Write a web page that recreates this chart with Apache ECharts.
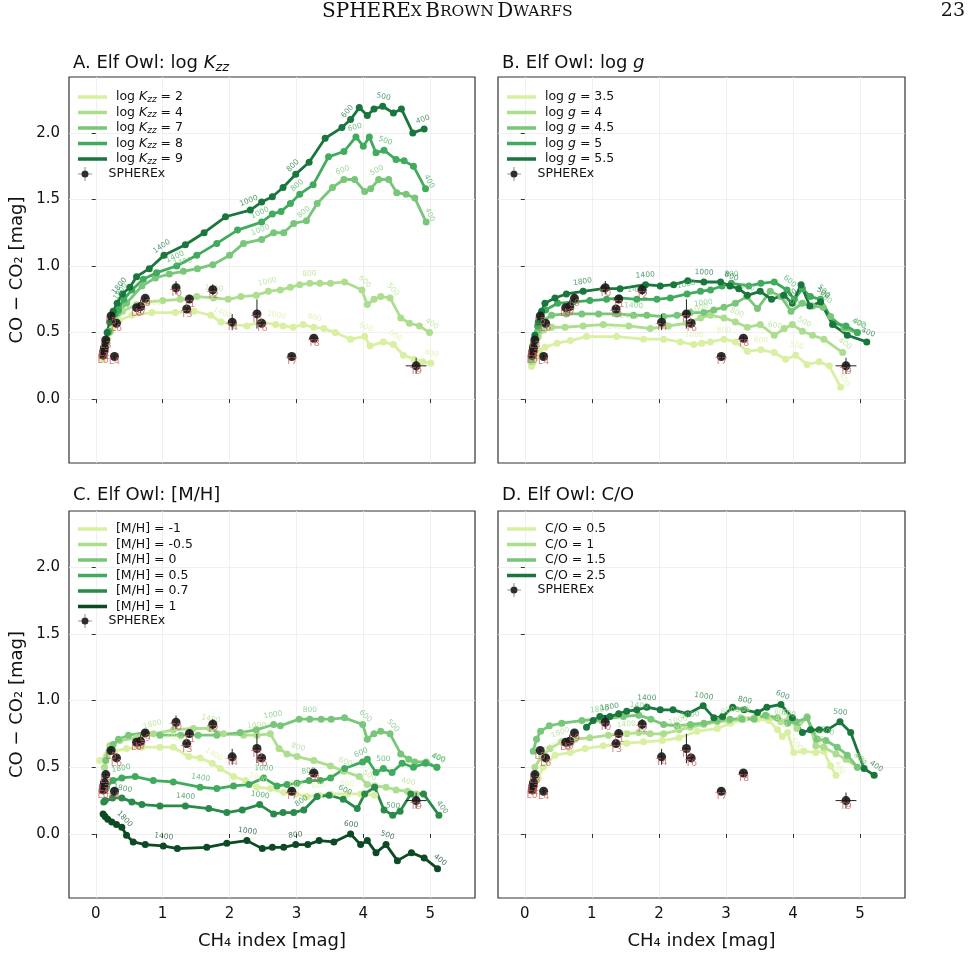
<!DOCTYPE html>
<html>
<head>
<meta charset="utf-8">
<script src="https://cdn.jsdelivr.net/npm/echarts@6/dist/echarts.min.js"></script>
<style>
html, body { margin: 0; padding: 0; background: #fff; }
#main { width: 972px; height: 956px; }
</style>
</head>
<body>
<div id="main"></div>
<script>
// axis extents and ticks (shared by all four panels)
var xMin = -0.4, xMax = 5.67, yMin = -0.48, yMax = 2.42;
var xTicks = [0, 1, 2, 3, 4, 5];
var yTicks = [0, 0.5, 1, 1.5, 2];

// SPHEREx measurements
var spxNames = ['L0','L1','L2','L3','L4','L5','L6','L7','L8','L9','T0','T1','T2','T3','T4','T5','T6','T7','T8','T9'];
var spxX    = [0.11,0.12,0.13,0.15,0.28,0.23,0.31,0.67,0.61,0.74,1.20,1.40,1.75,1.36,2.04,2.41,2.48,2.93,3.26,4.79];
var spxY    = [0.33,0.36,0.385,0.445,0.32,0.625,0.57,0.695,0.687,0.757,0.837,0.752,0.822,0.677,0.578,0.64,0.57,0.32,0.457,0.25];
var spxXerr = [0.02,0.02,0.02,0.02,0.02,0.02,0.02,0.02,0.02,0.02,0.02,0.02,0.02,0.02,0.02,0.02,0.02,0.03,0.07,0.155];
var spxYerr = [0.02,0.02,0.02,0.02,0.02,0.02,0.02,0.05,0.02,0.02,0.05,0.03,0.04,0.02,0.06,0.11,0.02,0.02,0.02,0.06];

// A. log Kzz
var kzzNames = ['log Kzz = 2', 'log Kzz = 4', 'log Kzz = 7', 'log Kzz = 8', 'log Kzz = 9'];
var kzz2 = [[0.10,0.30],[0.13,0.38],[0.18,0.46],[0.25,0.53],[0.35,0.59],[0.54,0.63],[0.84,0.65],[1.19,0.65],[1.47,0.66],[1.72,0.63],[1.87,0.58],[2.06,0.56],[2.26,0.55],[2.46,0.58],[2.69,0.56],[2.80,0.55],[2.95,0.54],[3.10,0.56],[3.26,0.54],[3.41,0.53],[3.58,0.50],[3.81,0.45],[4.02,0.47],[4.10,0.40],[4.30,0.43],[4.45,0.41],[4.60,0.33],[4.76,0.30],[4.89,0.28],[5.01,0.27]];
var kzz4 = [[0.12,0.34],[0.16,0.42],[0.22,0.51],[0.30,0.59],[0.40,0.66],[0.61,0.71],[0.77,0.73],[1.00,0.74],[1.26,0.75],[1.51,0.77],[1.76,0.76],[1.98,0.75],[2.17,0.77],[2.40,0.78],[2.58,0.81],[2.76,0.82],[2.91,0.84],[3.05,0.86],[3.20,0.87],[3.35,0.87],[3.51,0.87],[3.72,0.88],[3.98,0.82],[4.06,0.71],[4.16,0.75],[4.26,0.77],[4.40,0.76],[4.56,0.61],[4.69,0.57],[4.84,0.55],[4.99,0.50]];
var kzz7 = [[0.12,0.34],[0.16,0.43],[0.20,0.50],[0.26,0.58],[0.33,0.65],[0.46,0.72],[0.69,0.85],[0.89,0.91],[1.10,0.94],[1.31,0.96],[1.52,0.98],[1.75,1.01],[2.00,1.08],[2.21,1.17],[2.48,1.20],[2.66,1.25],[2.81,1.25],[2.96,1.32],[3.15,1.34],[3.31,1.47],[3.54,1.59],[3.71,1.65],[3.87,1.65],[4.02,1.56],[4.11,1.58],[4.23,1.65],[4.38,1.65],[4.50,1.55],[4.64,1.54],[4.77,1.51],[4.94,1.33]];
var kzz8 = [[0.12,0.35],[0.15,0.43],[0.19,0.51],[0.24,0.59],[0.29,0.64],[0.34,0.67],[0.42,0.75],[0.54,0.82],[0.71,0.90],[0.91,0.95],[1.21,1.00],[1.51,1.08],[1.81,1.17],[2.12,1.27],[2.48,1.33],[2.64,1.39],[2.77,1.41],[2.91,1.47],[3.05,1.54],[3.25,1.61],[3.48,1.82],[3.71,1.86],[3.89,1.97],[4.00,1.90],[4.09,1.97],[4.19,1.85],[4.31,1.87],[4.49,1.80],[4.61,1.79],[4.75,1.75],[4.93,1.58]];
var kzz9 = [[0.12,0.35],[0.14,0.42],[0.17,0.50],[0.21,0.58],[0.26,0.66],[0.32,0.72],[0.40,0.79],[0.51,0.84],[0.61,0.92],[0.80,0.98],[1.02,1.08],[1.34,1.16],[1.62,1.25],[1.94,1.37],[2.31,1.42],[2.48,1.48],[2.64,1.52],[2.80,1.59],[2.99,1.69],[3.19,1.78],[3.43,1.96],[3.68,2.04],[3.81,2.10],[3.94,2.19],[4.06,2.13],[4.16,2.18],[4.29,2.20],[4.45,2.15],[4.57,2.18],[4.74,2.00],[4.91,2.03]];
var kzzTemps = [
    [[6,'1800'],[10,'1400'],[14,'1000'],[18,'800'],[22,'600'],[25,'500'],[29,'400']],
    [[10,'1400'],[14,'1000'],[18,'800'],[22,'600'],[26,'500'],[30,'400']],
    [[9,'1400'],[14,'1000'],[18,'800'],[21,'600'],[25,'500'],[30,'400']],
    [[6,'1800'],[10,'1400'],[14,'1000'],[18,'800'],[22,'600'],[26,'500'],[30,'400']],
    [[6,'1800'],[10,'1400'],[14,'1000'],[18,'800'],[22,'600'],[26,'500'],[30,'400']]
];

// B. log g
var gNames = ['log g = 3.5', 'log g = 4', 'log g = 4.5', 'log g = 5', 'log g = 5.5'];
var g35 = [[0.10,0.245],[0.12,0.27],[0.16,0.31],[0.22,0.36],[0.30,0.39],[0.48,0.42],[0.68,0.44],[0.92,0.47],[1.37,0.47],[1.77,0.45],[2.07,0.45],[2.32,0.43],[2.52,0.41],[2.64,0.42],[2.77,0.43],[2.97,0.45],[3.14,0.43],[3.32,0.36],[3.52,0.37],[3.72,0.35],[3.89,0.30],[4.04,0.33],[4.21,0.26],[4.39,0.28],[4.54,0.25],[4.71,0.09]];
var g4 = [[0.10,0.28],[0.12,0.33],[0.15,0.40],[0.20,0.47],[0.28,0.52],[0.40,0.54],[0.60,0.54],[0.87,0.55],[1.17,0.56],[1.55,0.55],[1.87,0.53],[2.14,0.55],[2.42,0.57],[2.62,0.61],[2.77,0.63],[2.97,0.61],[3.14,0.58],[3.32,0.54],[3.51,0.56],[3.72,0.48],[3.87,0.53],[3.99,0.56],[4.14,0.51],[4.29,0.48],[4.46,0.45],[4.74,0.35]];
var g45 = [[0.10,0.30],[0.12,0.36],[0.15,0.43],[0.20,0.52],[0.27,0.59],[0.40,0.63],[0.62,0.64],[0.85,0.64],[1.10,0.64],[1.37,0.64],[1.62,0.63],[1.82,0.63],[2.07,0.62],[2.27,0.63],[2.47,0.65],[2.67,0.65],[2.82,0.67],[2.97,0.69],[3.14,0.72],[3.31,0.77],[3.47,0.68],[3.66,0.81],[3.82,0.77],[3.97,0.66],[4.14,0.72],[4.29,0.70],[4.45,0.69],[4.56,0.62],[4.76,0.53],[4.96,0.50]];
var g5 = [[0.10,0.32],[0.12,0.38],[0.15,0.46],[0.19,0.55],[0.24,0.62],[0.31,0.67],[0.49,0.72],[0.72,0.73],[0.97,0.74],[1.22,0.75],[1.41,0.76],[1.67,0.75],[1.97,0.75],[2.17,0.76],[2.42,0.79],[2.62,0.81],[2.77,0.82],[2.94,0.85],[3.08,0.87],[3.34,0.85],[3.52,0.87],[3.72,0.88],[3.91,0.82],[4.02,0.75],[4.14,0.83],[4.26,0.77],[4.41,0.75],[4.61,0.57],[4.79,0.55],[4.96,0.50]];
var g55 = [[0.10,0.33],[0.12,0.40],[0.15,0.48],[0.20,0.58],[0.25,0.66],[0.30,0.72],[0.45,0.76],[0.62,0.79],[0.87,0.81],[1.17,0.83],[1.42,0.83],[1.80,0.86],[2.02,0.85],[2.22,0.86],[2.43,0.89],[2.67,0.88],[2.92,0.88],[3.06,0.85],[3.19,0.83],[3.32,0.78],[3.51,0.81],[3.68,0.75],[3.86,0.78],[3.99,0.72],[4.12,0.86],[4.25,0.70],[4.41,0.73],[4.59,0.56],[4.81,0.48],[5.10,0.43]];
var gTemps = [
    [[8,'1400'],[12,'1000'],[15,'800'],[18,'600'],[21,'500'],[25,'400']],
    [[9,'1400'],[13,'1000'],[16,'800'],[19,'600'],[22,'500'],[25,'400']],
    [[10,'1400'],[15,'1000'],[19,'800'],[23,'600'],[26,'500'],[29,'400']],
    [[11,'1400'],[14,'1000'],[18,'800'],[22,'600'],[26,'500'],[29,'400']],
    [[8,'1800'],[11,'1400'],[15,'1000'],[17,'800'],[23,'600'],[26,'500'],[29,'400']]
];

// C. [M/H]
var mhNames = ['[M/H] = -1', '[M/H] = -0.5', '[M/H] = 0', '[M/H] = 0.5', '[M/H] = 0.7', '[M/H] = 1'];
var mhm1 = [[0.06,0.55],[0.16,0.59],[0.28,0.62],[0.46,0.64],[0.69,0.65],[0.96,0.65],[1.16,0.65],[1.39,0.58],[1.56,0.57],[1.74,0.53],[1.86,0.49],[2.06,0.43],[2.24,0.40],[2.41,0.35],[2.61,0.34],[2.81,0.31],[2.99,0.30],[3.16,0.28],[3.34,0.29],[3.51,0.30],[3.76,0.30],[3.96,0.30],[4.17,0.29]];
var mhm05 = [[0.13,0.50],[0.17,0.58],[0.21,0.66],[0.36,0.70],[0.61,0.72],[0.86,0.75],[1.16,0.78],[1.46,0.79],[1.71,0.79],[1.91,0.75],[2.21,0.74],[2.41,0.74],[2.61,0.75],[2.74,0.64],[2.86,0.60],[3.01,0.58],[3.26,0.55],[3.51,0.51],[3.71,0.47],[3.94,0.43],[4.06,0.37],[4.17,0.36],[4.34,0.35],[4.49,0.33],[4.66,0.32],[4.79,0.30]];
var mh0 = [[0.15,0.55],[0.20,0.62],[0.26,0.67],[0.34,0.71],[0.49,0.74],[0.74,0.76],[0.96,0.74],[1.27,0.74],[1.53,0.74],[1.81,0.74],[2.16,0.76],[2.40,0.78],[2.66,0.82],[2.76,0.81],[3.04,0.86],[3.20,0.86],[3.37,0.86],[3.52,0.86],[3.72,0.87],[3.99,0.82],[4.06,0.71],[4.16,0.75],[4.26,0.77],[4.40,0.75],[4.56,0.60],[4.68,0.56],[4.77,0.54],[4.94,0.54],[5.10,0.50]];
var mh05 = [[0.14,0.33],[0.16,0.35],[0.26,0.40],[0.39,0.42],[0.59,0.43],[0.86,0.40],[1.16,0.39],[1.56,0.35],[1.81,0.34],[2.06,0.36],[2.29,0.37],[2.51,0.42],[2.71,0.36],[2.86,0.37],[3.01,0.38],[3.19,0.40],[3.36,0.40],[3.51,0.42],[3.72,0.49],[3.99,0.54],[4.06,0.56],[4.19,0.46],[4.30,0.49],[4.43,0.46],[4.58,0.53],[4.75,0.50],[4.93,0.53],[5.10,0.50]];
var mh07 = [[0.12,0.24],[0.14,0.25],[0.25,0.27],[0.39,0.27],[0.54,0.24],[0.69,0.22],[0.96,0.21],[1.34,0.21],[1.69,0.19],[1.96,0.16],[2.19,0.18],[2.45,0.22],[2.66,0.15],[2.80,0.16],[2.96,0.16],[3.11,0.18],[3.31,0.28],[3.49,0.29],[3.70,0.26],[3.91,0.19],[4.02,0.30],[4.17,0.35],[4.31,0.18],[4.44,0.14],[4.55,0.17],[4.71,0.30],[4.90,0.30],[5.13,0.14]];
var mh1 = [[0.11,0.15],[0.14,0.13],[0.18,0.11],[0.24,0.09],[0.31,0.07],[0.39,0.05],[0.46,-0.01],[0.56,-0.06],[0.74,-0.08],[1.01,-0.09],[1.22,-0.11],[1.66,-0.10],[1.96,-0.07],[2.26,-0.05],[2.49,-0.11],[2.64,-0.10],[2.81,-0.10],[2.99,-0.08],[3.17,-0.08],[3.34,-0.05],[3.56,-0.06],[3.81,0.00],[3.96,-0.08],[4.06,-0.05],[4.19,-0.14],[4.34,-0.08],[4.51,-0.20],[4.72,-0.14],[4.91,-0.18],[5.11,-0.26]];
var mhTemps = [
    [[6,'1800'],[9,'1400'],[13,'1000'],[16,'800'],[18,'600'],[20,'500']],
    [[5,'1800'],[8,'1400'],[11,'1000'],[15,'800'],[18,'600'],[20,'500'],[24,'400']],
    [[12,'1000'],[15,'800'],[19,'600'],[23,'500'],[28,'400']],
    [[3,'1800'],[7,'1400'],[11,'1000'],[15,'800'],[19,'600'],[22,'500'],[27,'400']],
    [[3,'1800'],[7,'1400'],[11,'1000'],[15,'800'],[18,'600'],[23,'500'],[27,'400']],
    [[5,'1800'],[9,'1400'],[13,'1000'],[17,'800'],[21,'600'],[25,'500'],[29,'400']]
];

// D. C/O
var coNames = ['C/O = 0.5', 'C/O = 1', 'C/O = 1.5', 'C/O = 2.5'];
var co05 = [[0.14,0.33],[0.20,0.42],[0.275,0.50],[0.45,0.59],[0.675,0.61],[0.90,0.64],[1.17,0.66],[1.52,0.68],[1.77,0.69],[2.05,0.70],[2.30,0.72],[2.57,0.77],[2.87,0.79],[3.07,0.83],[3.27,0.86],[3.47,0.86],[3.64,0.85],[3.77,0.78],[3.84,0.73],[3.92,0.76],[4.01,0.61],[4.16,0.62],[4.34,0.61],[4.46,0.62],[4.56,0.51],[4.64,0.44]];
var co1 = [[0.15,0.50],[0.25,0.58],[0.375,0.64],[0.55,0.69],[0.75,0.71],[0.97,0.72],[1.245,0.74],[1.52,0.75],[1.70,0.76],[1.87,0.75],[2.07,0.75],[2.30,0.78],[2.47,0.80],[2.67,0.82],[2.87,0.84],[3.04,0.85],[3.22,0.87],[3.42,0.87],[3.62,0.88],[3.82,0.84],[3.95,0.87],[4.06,0.79],[4.21,0.88],[4.34,0.66],[4.46,0.65],[4.64,0.60],[4.79,0.56],[4.96,0.50]];
var co15 = [[0.125,0.62],[0.175,0.71],[0.235,0.77],[0.365,0.81],[0.55,0.83],[0.85,0.85],[1.12,0.86],[1.47,0.88],[1.70,0.89],[1.88,0.86],[2.07,0.82],[2.27,0.81],[2.47,0.82],[2.67,0.83],[2.87,0.85],[3.06,0.86],[3.24,0.86],[3.42,0.86],[3.59,0.89],[3.77,0.87],[3.92,0.83],[4.05,0.84],[4.21,0.87],[4.36,0.71],[4.49,0.70],[4.66,0.65],[4.81,0.59],[4.96,0.50]];
var co25 = [[0.92,0.80],[1.02,0.85],[1.12,0.88],[1.27,0.88],[1.40,0.90],[1.52,0.92],[1.67,0.93],[1.82,0.95],[2.02,0.93],[2.21,0.93],[2.43,0.90],[2.66,0.96],[2.82,0.87],[2.95,0.88],[3.10,0.95],[3.27,0.93],[3.47,0.91],[3.61,0.95],[3.82,0.97],[3.99,0.87],[4.14,0.76],[4.26,0.78],[4.39,0.78],[4.51,0.78],[4.70,0.84],[4.86,0.76],[5.06,0.49],[5.21,0.44]];
var coTemps = [
    [[3,'1800'],[7,'1400'],[10,'1000'],[14,'800'],[17,'600'],[20,'500'],[25,'400']],
    [[3,'1800'],[7,'1400'],[11,'1000'],[15,'800'],[19,'600'],[23,'500'],[27,'400']],
    [[6,'1800'],[8,'1400'],[12,'1000'],[16,'800'],[20,'600'],[24,'500'],[27,'400']],
    [[3,'1800'],[7,'1400'],[11,'1000'],[15,'800'],[18,'600'],[24,'500'],[27,'400']]
];

var chart = echarts.init(document.getElementById('main'));
var FONT = 'DejaVu Sans';

var grids = [
    {left: 69, top: 77, width: 406, height: 386},
    {left: 498, top: 77, width: 407, height: 386},
    {left: 69, top: 511, width: 406, height: 387},
    {left: 498, top: 511, width: 407, height: 387}
];

var subRich = {
    i: {fontStyle: 'italic', fontFamily: FONT, lineHeight: 14},
    s: {fontStyle: 'italic', fontFamily: FONT, fontSize: 9, verticalAlign: 'bottom', lineHeight: 10}
};
function legendText(name) {
    if (name.indexOf('Kzz') >= 0) name = name.replace('Kzz', '{i|K}{s|zz}');
    else if (name.indexOf('log g') >= 0) name = name.replace('log g', 'log {i|g}');
    return ' ' + name;
}

var panels = [
    {title: 'A. Elf Owl: log {i|K}{s|zz}', names: kzzNames, curves: [kzz2, kzz4, kzz7, kzz8, kzz9], temps: kzzTemps,
     colors: ['#d9f0a3', '#addd8e', '#78c679', '#41ab5d', '#19773d'], row: 16, gap: 1.5, shift: 13},
    {title: 'B. Elf Owl: log {i|g}', names: gNames, curves: [g35, g4, g45, g5, g55], temps: gTemps,
     colors: ['#d9f0a3', '#addd8e', '#78c679', '#41ab5d', '#19773d'], row: 16, gap: 1.5, shift: 13},
    {title: 'C. Elf Owl: [M/H]', names: mhNames, curves: [mhm1, mhm05, mh0, mh05, mh07, mh1], temps: mhTemps,
     colors: ['#d9f0a3', '#addd8e', '#78c679', '#41ab5d', '#2a8a4a', '#0b4a25'], row: 15.5, gap: 1.5, shift: 11},
    {title: 'D. Elf Owl: C/O', names: coNames, curves: [co05, co1, co15, co25], temps: coTemps,
     colors: ['#d9f0a3', '#addd8e', '#78c679', '#19773d'], row: 15.5, gap: 1.5, shift: 11}
];

var spxIcon = 'path://M5,10a5,5 0 1,1 10,0a5,5 0 1,1 -10,0ZM0,9.6H20V10.4H0ZM9.6,0H10.4V20H9.6Z';

var series = [], titles = [], legends = [], xAxes = [], yAxes = [];

panels.forEach(function (p, i) {
    var g = grids[i];
    var sx = g.width / (xMax - xMin), sy = g.height / (yMax - yMin);

    titles.push({
        left: g.left - 1, top: g.top - 30,
        text: p.title,
        textStyle: {fontSize: 18, fontWeight: 'normal', fontFamily: FONT, color: '#111',
            rich: {
                i: {fontStyle: 'italic', fontSize: 18, fontFamily: FONT, lineHeight: 22},
                s: {fontStyle: 'italic', fontSize: 13, fontFamily: FONT, verticalAlign: 'bottom', lineHeight: 14}
            }}
    });

    xAxes.push({
        type: 'value', gridIndex: i, min: xMin, max: xMax,
        axisLine: {show: false},
        axisTick: {show: true, customValues: xTicks, length: 4, lineStyle: {color: '#333', width: 1}},
        axisLabel: {show: i >= 2, customValues: xTicks, fontSize: 15, fontFamily: FONT, color: '#111', margin: 9},
        splitLine: {show: true, lineStyle: {color: '#ececec', width: 0.8}},
        name: i >= 2 ? 'CH\u2084 index [mag]' : '', nameLocation: 'middle', nameGap: 34,
        nameTextStyle: {fontSize: 18, fontFamily: FONT, color: '#111'}
    });
    yAxes.push({
        type: 'value', gridIndex: i, min: yMin, max: yMax,
        axisLine: {show: false},
        axisTick: {show: true, customValues: yTicks, length: 4, lineStyle: {color: '#333', width: 1}},
        axisLabel: {show: i % 2 === 0, customValues: yTicks, fontSize: 15, fontFamily: FONT, color: '#111', margin: 9,
            formatter: function (v) { return v.toFixed(1); }},
        splitLine: {show: true, lineStyle: {color: '#ececec', width: 0.8}},
        name: i % 2 === 0 ? 'CO \u2212 CO\u2082 [mag]' : '', nameLocation: 'middle', nameGap: 43,
        nameTextStyle: {fontSize: 18, fontFamily: FONT, color: '#111'}
    });

    p.curves.forEach(function (pts, j) {
        var lab = {};
        p.temps[j].forEach(function (t) { lab[t[0]] = t[1]; });
        var data = pts.map(function (pt, k) {
            if (!lab[k]) return pt;
            var a = pts[Math.max(k - 1, 0)], b = pts[Math.min(k + 1, pts.length - 1)];
            var ang = Math.atan2((b[1] - a[1]) * sy, (b[0] - a[0]) * sx) * 180 / Math.PI;
            if (ang > 90) ang -= 180;
            if (ang < -90) ang += 180;
            return {value: pt, label: {show: true, formatter: lab[k], rotate: ang}};
        });
        series.push({
            type: 'line', name: p.names[j], xAxisIndex: i, yAxisIndex: i,
            data: data, symbol: 'circle', symbolSize: 7, showAllSymbol: true,
            lineStyle: {width: 2.8, color: p.colors[j]},
            itemStyle: {color: p.colors[j]},
            label: {show: false, position: 'top', distance: 2, fontSize: 7.5, fontFamily: FONT,
                color: p.colors[j], opacity: 0.75},
            emphasis: {disabled: true},
            z: 2
        });
    });

    var spx = spxNames.map(function (n, k) {
        return {name: n, value: [spxX[k], spxY[k], spxXerr[k], spxYerr[k]]};
    });
    series.push({
        type: 'scatter', name: 'SPHEREx', xAxisIndex: i, yAxisIndex: i,
        data: spx, symbol: 'circle', symbolSize: 9,
        itemStyle: {color: '#1c1c1c', opacity: 0.92},
        label: {show: true, formatter: '{b}', position: 'bottom', distance: -4,
            fontSize: 9.5, fontFamily: FONT, color: 'rgba(205,92,92,0.85)'},
        emphasis: {disabled: true},
        z: 6
    });
    series.push({
        type: 'custom', name: 'SPHEREx err', xAxisIndex: i, yAxisIndex: i,
        data: spx,
        renderItem: function (params, api) {
            var x = api.value(0), y = api.value(1), ex = api.value(2), ey = api.value(3);
            var l = api.coord([x - ex, y]), r = api.coord([x + ex, y]);
            var t = api.coord([x, y + ey]), b = api.coord([x, y - ey]);
            return {type: 'group', children: [
                {type: 'line', shape: {x1: l[0], y1: l[1], x2: r[0], y2: r[1]}, style: {stroke: '#222', lineWidth: 1}},
                {type: 'line', shape: {x1: t[0], y1: t[1], x2: b[0], y2: b[1]}, style: {stroke: '#222', lineWidth: 1}}
            ]};
        },
        z: 5
    });

    legends.push({
        orient: 'vertical', left: g.left + 9, top: g.top + p.shift, padding: 0,
        itemWidth: 29, itemHeight: 14, itemGap: p.gap,
        icon: 'path://M0,0H28V3.4H0Z',
        data: p.names, selectedMode: false,
        formatter: legendText,
        textStyle: {fontSize: 12.5, lineHeight: 14, fontFamily: FONT, color: '#111', rich: subRich}
    });
    legends.push({
        orient: 'vertical', left: g.left + 9, top: g.top + 10 + p.names.length * p.row, padding: 0,
        itemWidth: 29, itemHeight: 14, itemGap: 2,
        data: [{name: 'SPHEREx', icon: spxIcon}], selectedMode: false,
        formatter: function (n) { return ' ' + n; },
        textStyle: {fontSize: 12.5, lineHeight: 14, fontFamily: FONT, color: '#111'}
    });
});

var option = {
    backgroundColor: '#fff',
    animation: false,
    title: titles,
    grid: grids.map(function (g) {
        return {left: g.left, top: g.top, width: g.width, height: g.height,
            show: true, borderColor: '#333', borderWidth: 1.2, backgroundColor: 'transparent'};
    }),
    xAxis: xAxes,
    yAxis: yAxes,
    legend: legends,
    series: series,
    graphic: [
        {type: 'text', left: 322, top: 2, style: {
            text: '{a|SPHERE}{b|X} {a|B}{b|ROWN} {a|D}{b|WARFS}',
            rich: {
                a: {fontSize: 20, fontFamily: 'DejaVu Serif', fill: '#111'},
                b: {fontSize: 15.5, fontFamily: 'DejaVu Serif', fill: '#111'}
            }
        }},
        {type: 'text', right: 7, top: 2, style: {text: '23', fontSize: 19, fontFamily: 'DejaVu Serif', fill: '#111'}}
    ]
};
chart.setOption(option);
</script>
</body>
</html>
